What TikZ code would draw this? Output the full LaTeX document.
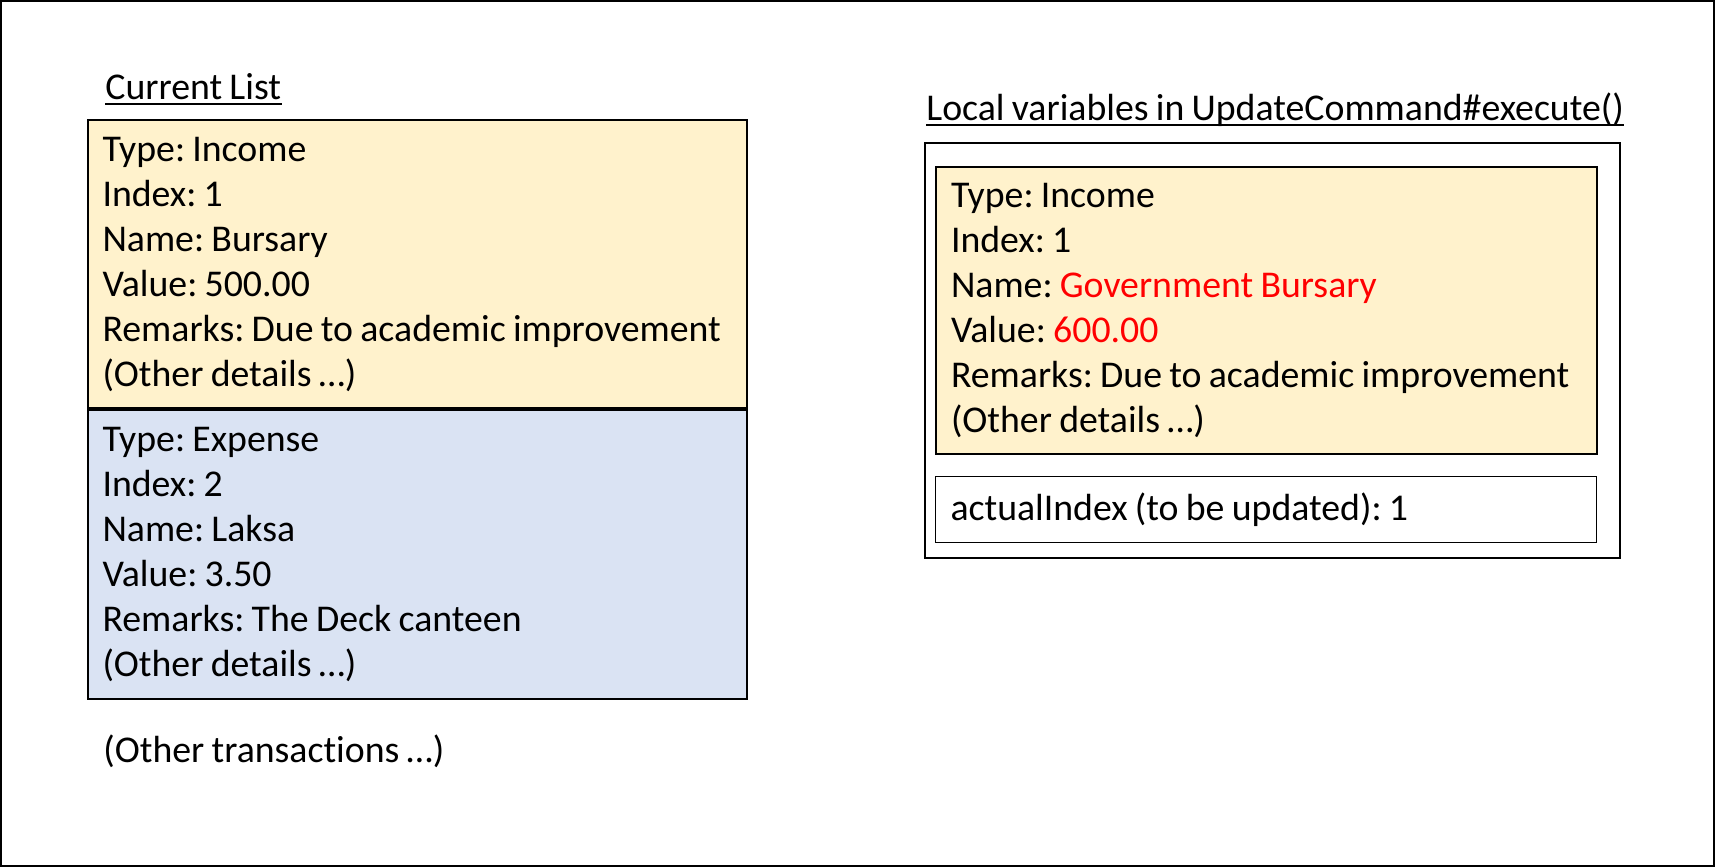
\documentclass[tikz,border=0pt]{standalone}
\usepackage{fontspec}
\setmainfont{Carlito}[Ligatures=NoCommon, WordSpace=0.85]
\frenchspacing
\definecolor{incomefill}{HTML}{FFF2CC}
\definecolor{expensefill}{HTML}{DAE3F3}
\tikzset{
    bodyfont/.style={font=\fontsize{18.9}{22.5}\selectfont},
    recordbox/.style={draw=black, line width=1pt, anchor=north west, inner xsep=7.5pt, inner ysep=8pt,
        text width=314.75pt, align=left, bodyfont,
        execute at begin node={\spaceskip=0pt\xspaceskip=0pt}},
    titlelabel/.style={anchor=base west, inner sep=0pt, bodyfont}
}
\begin{document}
\begin{tikzpicture}[x=0.5pt,y=-0.5pt]
            \useasboundingbox (0,0) rectangle (1715,867);
            \draw[line width=1pt] (1,1) rectangle (1714,866);
            % current list
            \node[titlelabel] (listtitle) at (105,99.5) {Current List};
            \draw[line width=1pt] ([yshift=-2.2pt]listtitle.base west) -- ([yshift=-2.2pt]listtitle.base east);
            \node[recordbox, fill=incomefill, minimum height=144pt] (income) at (86.5,119)
            {Type: Income\\Index: 1\\Name: Bursary\\Value: 500.00\\Remarks: Due to academic improvement\\(Other details …)};
            \node[recordbox, fill=expensefill, minimum height=144.5pt] (expense) at (income.south west)
            {Type: Expense\\Index: 2\\Name: Laksa\\Value: 3.50\\Remarks: The Deck canteen\\(Other details …)};
            \node[titlelabel] (others) at (103,762) {(Other transactions …)};
            % local variables
            \node[titlelabel] (localtitle) at (926,120.5) {Local variables in UpdateCommand\#execute()};
            \draw[line width=1pt] ([yshift=-2.2pt]localtitle.base west) -- ([yshift=-2.2pt]localtitle.base east);
            \node[draw=black, line width=1pt, anchor=north west, minimum width=347.5pt, minimum height=207.5pt, inner sep=0pt] (locals) at (924,142) {};
            \node[recordbox, fill=incomefill, text width=315.5pt, minimum height=143.5pt] (updated) at (935,166)
            {Type: Income\\Index: 1\\Name: \textcolor{red}{Government Bursary}\\Value: \textcolor{red}{600.00}\\Remarks: Due to academic improvement\\(Other details …)};
            \node[recordbox, line width=0.5pt, text width=315.5pt, minimum height=30.5pt] (actual) at (935,476)
            {actualIndex (to be updated): 1};
        \end{tikzpicture}
\end{document}
